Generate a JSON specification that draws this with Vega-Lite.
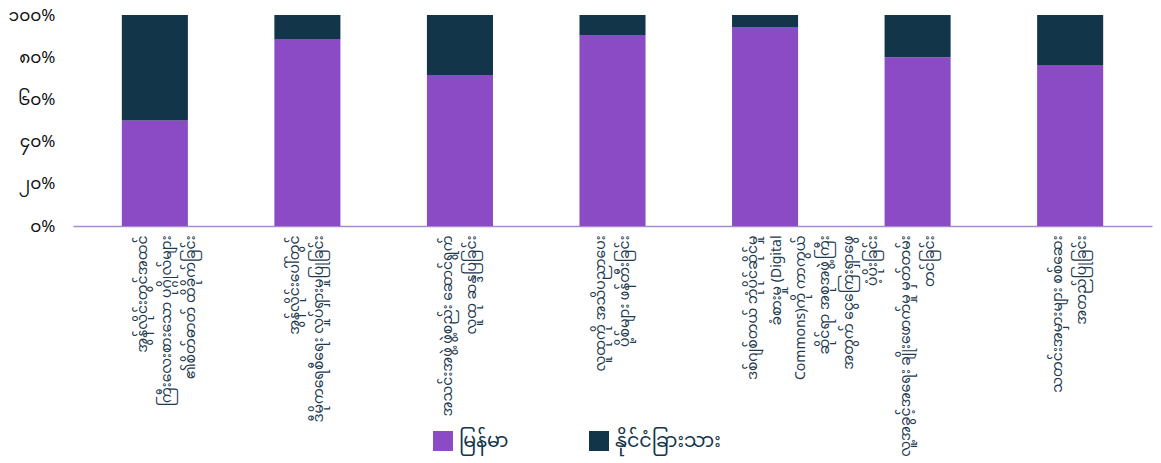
{
  "$schema": "https://vega.github.io/schema/vega-lite/v6.json",
  "width": 1079,
  "height": 211,
  "autosize": {"type": "none"},
  "padding": {"left": 73, "top": 15, "right": 9, "bottom": 237},
  "background": "white",
  "config": {"view": {"stroke": null}, "font": "Noto Sans Myanmar, Padauk, Myanmar Text, Noto Sans, sans-serif"},
  "data": {
    "values": [
      {"cat": "အွန်လိုင်းတွင်အထင်|ကြီးလေးစားသော ပုဂ္ဂိုလ်များ|၏စိတ်ဓာတ် ထိခိုက်ခြင်း", "order": 1, "group": "မြန်မာ", "value": 0.50},
      {"cat": "အွန်လိုင်းတွင်အထင်|ကြီးလေးစားသော ပုဂ္ဂိုလ်များ|၏စိတ်ဓာတ် ထိခိုက်ခြင်း", "order": 1, "group": "နိုင်ငံခြားသား", "value": 0.50},
      {"cat": "အွန်လိုင်းပေါ်တွင်|ဒီမိုကရေစီရေး လှုပ်ရှားမှုပြုခြင်း", "order": 2, "group": "မြန်မာ", "value": 0.886},
      {"cat": "အွန်လိုင်းပေါ်တွင်|ဒီမိုကရေစီရေး လှုပ်ရှားမှုပြုခြင်း", "order": 2, "group": "နိုင်ငံခြားသား", "value": 0.114},
      {"cat": "အသင်းအဖွဲ့ ဖွဲ့စည်း ဆောင်ရွက်|လူထု ဆန္ဒပြခြင်း", "order": 3, "group": "မြန်မာ", "value": 0.716},
      {"cat": "အသင်းအဖွဲ့ ဖွဲ့စည်း ဆောင်ရွက်|လူထု ဆန္ဒပြခြင်း", "order": 3, "group": "နိုင်ငံခြားသား", "value": 0.284},
      {"cat": "လူထုကို အသိပညာပေး|ပို့စ်များ ဖန်တီးခြင်း", "order": 4, "group": "မြန်မာ", "value": 0.905},
      {"cat": "လူထုကို အသိပညာပေး|ပို့စ်များ ဖန်တီးခြင်း", "order": 4, "group": "နိုင်ငံခြားသား", "value": 0.095},
      {"cat": "ဒစ်ဂျစ်တယ် ဘုံပိုင်ဆိုင်မှု|ခံစားမှု (Digital|Commons)ကို ကာကွယ်|ဆိုင်ရာ အစုအဖွဲ့ကြီး|အတွက် ငွေကြေးရှာဖွေ|ပံ့ပိုးခြင်း", "order": 5, "group": "မြန်မာ", "value": 0.943},
      {"cat": "ဒစ်ဂျစ်တယ် ဘုံပိုင်ဆိုင်မှု|ခံစားမှု (Digital|Commons)ကို ကာကွယ်|ဆိုင်ရာ အစုအဖွဲ့ကြီး|အတွက် ငွေကြေးရှာဖွေ|ပံ့ပိုးခြင်း", "order": 5, "group": "နိုင်ငံခြားသား", "value": 0.057},
      {"cat": "လူ့အခွင့်အရေး ချိုးဖောက်မှု မှတ်တမ်း|တင်ခြင်း", "order": 6, "group": "မြန်မာ", "value": 0.80},
      {"cat": "လူ့အခွင့်အရေး ချိုးဖောက်မှု မှတ်တမ်း|တင်ခြင်း", "order": 6, "group": "နိုင်ငံခြားသား", "value": 0.20},
      {"cat": "သတင်းအမှားများ စစ်ဆေး|အတည်ပြုခြင်း", "order": 7, "group": "မြန်မာ", "value": 0.763},
      {"cat": "သတင်းအမှားများ စစ်ဆေး|အတည်ပြုခြင်း", "order": 7, "group": "နိုင်ငံခြားသား", "value": 0.237}
    ]
  },
  "mark": {"type": "bar"},
  "encoding": {
    "x": {
      "field": "cat", "type": "nominal", "sort": {"field": "order"},
      "scale": {"paddingInner": 0.567, "paddingOuter": 0.32},
      "axis": {
        "title": null, "labelAngle": -90, "labelExpr": "split(datum.label, '|')",
        "labelLineHeight": 24, "labelFontSize": 14, "labelColor": "#1d3a4f", "labelLimit": 400,
        "ticks": false, "labelPadding": 9, "labelOffset": -12, "domainColor": "#a58bd0", "domainWidth": 1.5
      }
    },
    "y": {
      "field": "value", "type": "quantitative", "stack": "zero",
      "scale": {"domain": [0, 1]},
      "axis": {
        "title": null, "grid": false, "domain": false, "ticks": false, "values": [0, 0.2, 0.4, 0.6, 0.8, 1],
        "format": ".0%", "labelFontSize": 17, "labelColor": "#111111", "labelPadding": 18,
        "labelExpr": "replace(replace(replace(replace(replace(replace(datum.label, regexp('0','g'), '၀'), regexp('1','g'), '၁'), regexp('2','g'), '၂'), regexp('4','g'), '၄'), regexp('6','g'), '၆'), regexp('8','g'), '၈')"
      }
    },
    "color": {
      "field": "group", "type": "nominal",
      "scale": {"domain": ["မြန်မာ", "နိုင်ငံခြားသား"], "range": ["#8a4bc4", "#13354a"]},
      "legend": {
        "title": null, "orient": "none", "legendX": 360, "legendY": 416, "direction": "horizontal",
        "symbolType": "square", "symbolSize": 400, "symbolStrokeWidth": 0, "symbolOpacity": 1,
        "labelFontSize": 19, "labelColor": "#13354a", "columnPadding": 80, "labelOffset": 6
      }
    },
    "order": {"field": "group", "sort": "descending"}
  }
}
